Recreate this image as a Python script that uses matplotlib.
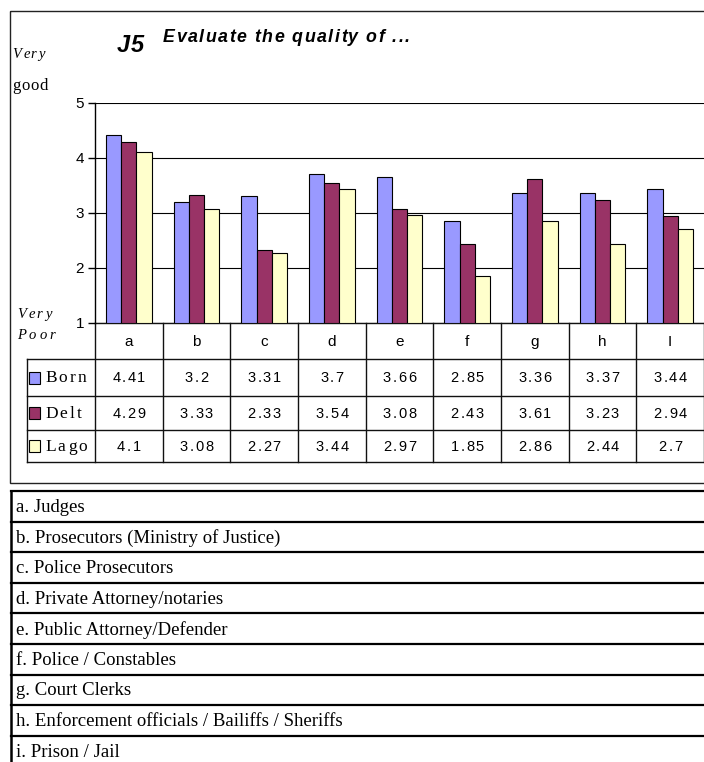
import matplotlib
matplotlib.use('Agg')
import matplotlib.pyplot as plt
import numpy as np
from matplotlib.lines import Line2D
from matplotlib.patches import Rectangle
from matplotlib.font_manager import FontProperties

# ---------------- data ----------------
categories = ['a', 'b', 'c', 'd', 'e', 'f', 'g', 'h', 'I']
series_names = ['Born', 'Delt', 'Lago']
born = [4.41, 3.2, 3.31, 3.7, 3.66, 2.85, 3.36, 3.37, 3.44]
delt = [4.29, 3.33, 2.33, 3.54, 3.08, 2.43, 3.61, 3.23, 2.94]
lago = [4.1, 3.08, 2.27, 3.44, 2.97, 1.85, 2.86, 2.44, 2.7]
series_values = [born, delt, lago]
series_colors = ['#9999FF', '#993366', '#FFFFCC']
y_ticks = [1, 2, 3, 4, 5]
descriptions = [
    'a. Judges',
    'b. Prosecutors (Ministry of Justice)',
    'c. Police Prosecutors',
    'd. Private Attorney/notaries',
    'e. Public Attorney/Defender',
    'f. Police / Constables',
    'g. Court Clerks',
    'h. Enforcement officials / Bailiffs / Sheriffs',
    'i. Prison / Jail',
]

# ---------------- figure ----------------
W, H = 704, 762
fig = plt.figure(figsize=(W / 100, H / 100), dpi=100)
ov = fig.add_axes([0, 0, 1, 1])
ov.set_xlim(0, W)
ov.set_ylim(H, 0)
ov.axis('off')

renderer = fig.canvas.get_renderer()


def tw(s, prop):
    if not s:
        return 0.0
    w, h, d = renderer.get_text_width_height_descent(s, prop, ismath=False)
    return w


def tracked(x, y, s, prop, track, ha='left', va='baseline', color='black'):
    ref = 'l'
    rw = tw(ref, prop)
    pos = [0.0 if i == 0 else tw(s[:i] + ref, prop) - rw for i in range(len(s))]
    total = tw(s, prop) + track * (len(s) - 1)
    if ha == 'center':
        x0 = x - total / 2
    elif ha == 'right':
        x0 = x - total
    else:
        x0 = x
    for i, ch in enumerate(s):
        if ch == ' ':
            continue
        ov.text(x0 + pos[i] + i * track, y, ch, fontproperties=prop,
                ha='left', va=va, color=color)


sans = 'Liberation Sans'
serif = 'Liberation Serif'

# outer chart frame
ov.add_patch(Rectangle((9.5, 11), W + 10, 472, fill=False, lw=1.0,
                       edgecolor='#222222'))

# ---------------- bar chart ----------------
left, right, top, bottom = 95, 704, 103, 323
ax = fig.add_axes([left / W, 1 - bottom / H, (right - left) / W, (bottom - top) / H])
ax.patch.set_visible(False)
x = np.arange(len(categories))
bw = 0.225
for k, (vals, col) in enumerate(zip(series_values, series_colors)):
    ax.bar(x + (k - 1) * bw, np.array(vals) - 1, bottom=1, width=bw,
           color=col, edgecolor='black', linewidth=0.8, zorder=3)
ax.set_xlim(-0.5, len(categories) - 0.5)
ax.set_ylim(1, 5)
ax.set_yticks(y_ticks)
ax.set_yticklabels([str(v) for v in y_ticks], fontfamily=sans, fontsize=11)
ax.set_xticks([])
ax.yaxis.grid(True, color='black', linewidth=0.8)
ax.set_axisbelow(True)
for sp in ['top', 'right', 'bottom']:
    ax.spines[sp].set_visible(False)
ax.spines['left'].set_linewidth(1.0)
ax.tick_params(axis='y', direction='out', length=5, width=1, pad=3)

# ---------------- data table ----------------
col_w = (right - left) / len(categories)
row_y = [323, 359, 396, 430, 462]
lc = '#111111'
ov.add_line(Line2D([left, right + 5], [row_y[0], row_y[0]], color=lc, lw=1))
for yy in row_y[1:]:
    ov.add_line(Line2D([27, right + 5], [yy, yy], color=lc, lw=1))
for i in range(len(categories) + 1):
    xx = left + i * col_w
    ov.add_line(Line2D([xx, xx], [row_y[0], row_y[-1]], color=lc, lw=1))
ov.add_line(Line2D([27, 27], [row_y[1], row_y[-1]], color=lc, lw=1))

pcat = FontProperties(family=sans, size=11)
for i, c in enumerate(categories):
    ov.text(left + (i + 0.5) * col_w, (row_y[0] + row_y[1]) / 2 + 1, c,
            fontproperties=pcat, ha='center', va='center')

pnum = FontProperties(family=sans, size=10.5)
plab = FontProperties(family=serif, size=12.5)
for r, (name, vals, col) in enumerate(zip(series_names, series_values, series_colors)):
    yc = (row_y[r + 1] + row_y[r + 2]) / 2
    ov.add_patch(Rectangle((29, yc - 6), 11, 12, facecolor=col,
                           edgecolor='black', lw=0.8))
    tracked(45, yc + 5, name, plab, 2.2)
    for i, v in enumerate(vals):
        tracked(left + (i + 0.5) * col_w, yc + 5, str(v), pnum, 1.6, ha='center')

# ---------------- titles / axis labels ----------------
tracked(117, 52, 'J5', FontProperties(family=sans, size=17, weight='bold',
                                      style='italic'), 0.5)
tracked(163, 42, 'Evaluate the quality of ...',
        FontProperties(family=sans, size=12.8, weight='bold', style='italic'), 1.5)
tracked(12, 58, 'Very', FontProperties(family=serif, size=10.5, style='italic'), 2.2)
tracked(12, 90, 'good', FontProperties(family=serif, size=12), 0.8)
tracked(17, 318, 'Very', FontProperties(family=serif, size=10.5, style='italic'), 3.0)
tracked(17, 339, 'Poor', FontProperties(family=serif, size=10.5, style='italic'), 3.0)

# ---------------- description table ----------------
y0, step = 491, 30.6
pdesc = FontProperties(family=serif, size=13.5)
for i in range(len(descriptions) + 1):
    yy = y0 + i * step
    ov.add_line(Line2D([11, W + 5], [yy, yy], color='black', lw=1.6))
ov.add_line(Line2D([11, 11], [y0, H + 5], color='black', lw=1.8))
for i, d in enumerate(descriptions):
    ov.text(16, y0 + (i + 0.5) * step + 1, d, fontproperties=pdesc,
            ha='left', va='center')

fig.savefig('out.png', dpi=100)
